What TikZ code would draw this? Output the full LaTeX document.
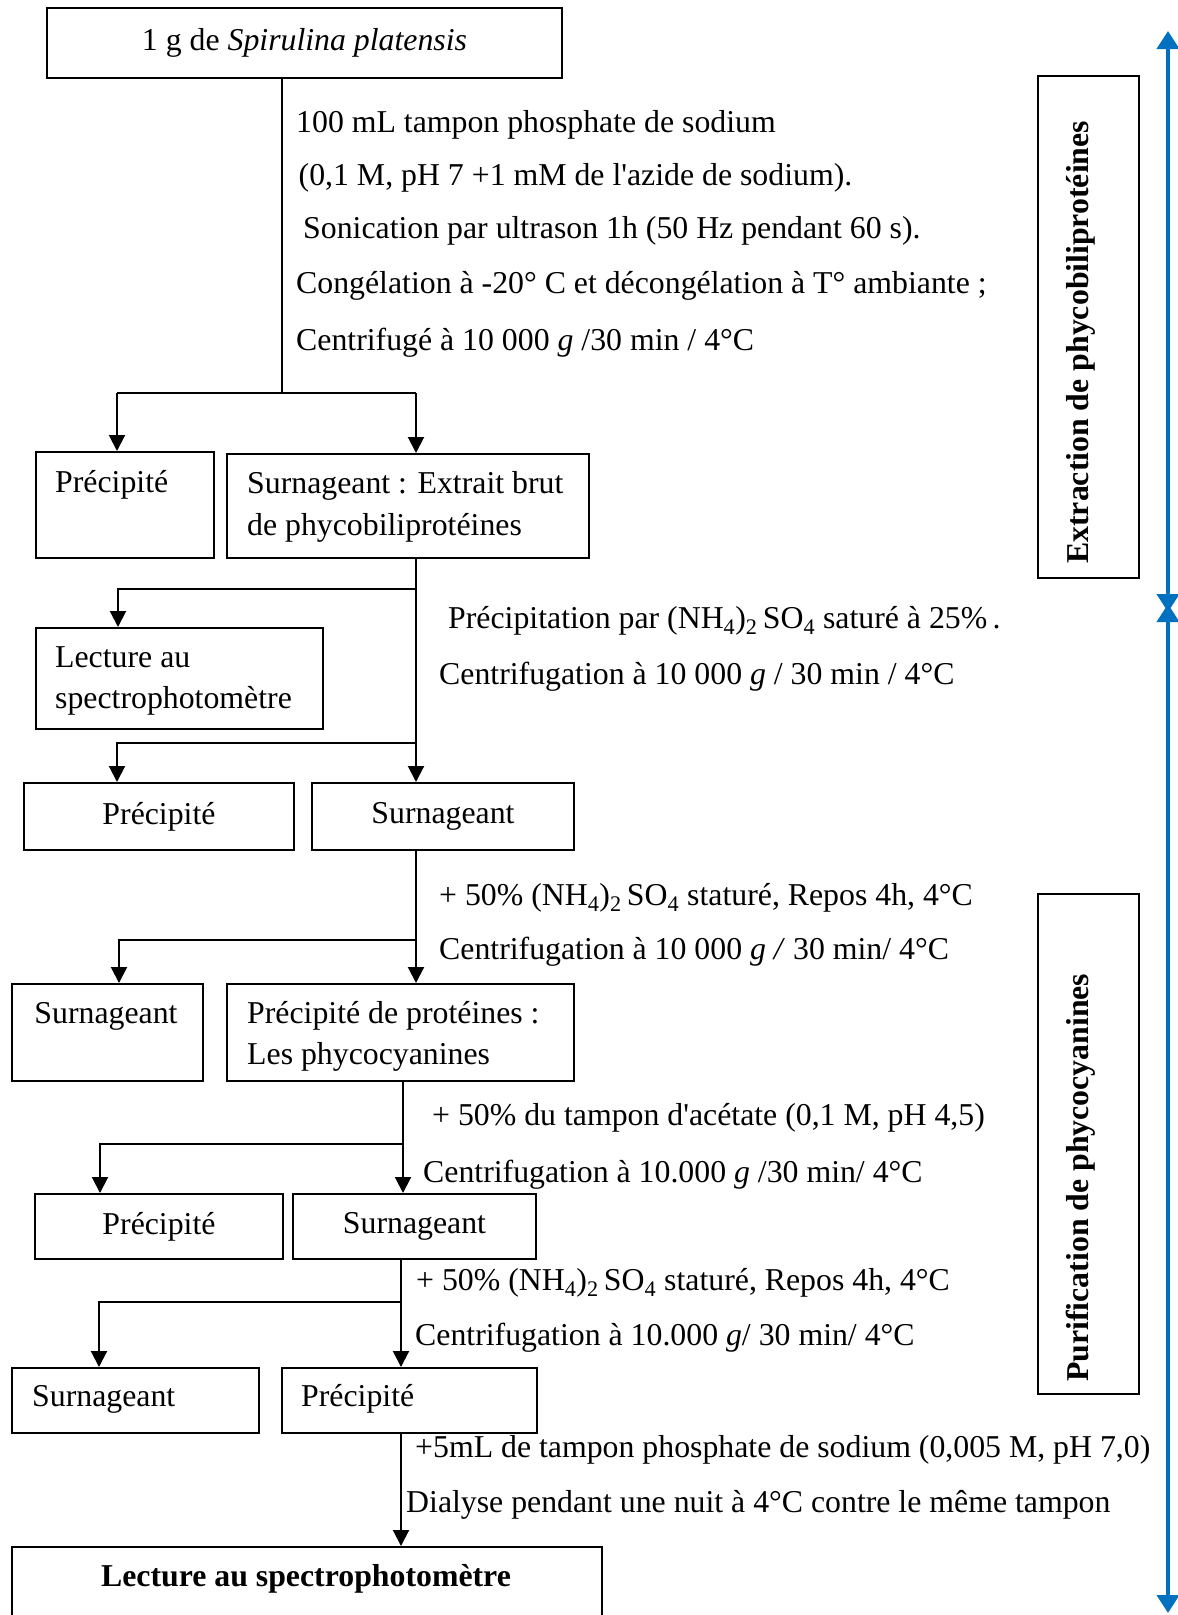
\documentclass[tikz,border=0pt]{standalone}
\usepackage{fontspec}
\setmainfont{Liberation Serif}[Ligatures=TeXOff]
\usetikzlibrary{arrows.meta}
\definecolor{bluearr}{RGB}{0,112,192}
\tikzset{
  box/.style={draw=black, line width=2pt, rectangle, inner sep=0pt, anchor=north west,
              font=\fontsize{31.8}{38}\selectfont},
  txt/.style={inner sep=0pt, anchor=base west, font=\fontsize{31.8}{38}\selectfont},
  rtxt/.style={inner sep=0pt, anchor=base west, rotate=90, font=\fontsize{31.8}{38}\selectfont\bfseries},
  con/.style={line width=2pt},
  arr/.style={con, -{Triangle[width=16pt,length=16pt]}},
  barr/.style={draw=bluearr, line width=4pt,
     {Triangle[width=22pt,length=18pt]}-{Triangle[width=22pt,length=18pt]}},
}
\begin{document}
\begin{tikzpicture}[x=1pt,y=-1pt]
\useasboundingbox (0,0) rectangle (1178,1615);

% boxes
\node[box, minimum width=515pt, minimum height=70pt] (top) at (46,7) {1 g de \textit{Spirulina platensis}};
\node[box, minimum width=178pt, minimum height=106pt] (p1) at (35,451) {};
\node[box, minimum width=362pt, minimum height=104pt] (s1) at (226,453) {};
\node[box, minimum width=287pt, minimum height=101pt] (lec1) at (35,627) {};
\node[box, minimum width=270pt, minimum height=67pt] (p2) at (23,782) {Précipité};
\node[box, minimum width=262pt, minimum height=67pt] (s2) at (311,782) {Surnageant};
\node[box, minimum width=191pt, minimum height=97pt] (s3) at (11,983) {};
\node[box, minimum width=347pt, minimum height=97pt] (pp) at (226,983) {};
\node[box, minimum width=248pt, minimum height=65pt] (p4) at (34,1193) {Précipité};
\node[box, minimum width=243pt, minimum height=65pt] (s4) at (292,1193) {Surnageant};
\node[box, minimum width=247pt, minimum height=65pt] (s5) at (11,1367) {};
\node[box, minimum width=255pt, minimum height=65pt] (p5) at (281,1367) {};
\node[box, minimum width=590pt, minimum height=90pt] (fin) at (11,1546) {};
\node[box, minimum width=101pt, minimum height=502pt] (ext) at (1037,75) {};
\node[box, minimum width=101pt, minimum height=500pt] (pur) at (1037,893) {};

% texts inside boxes
\node[txt] (p1t) at (55,492) {Précipité};
\node[txt] (s1t) at (247,493) {Surnageant : Extrait brut};
\node[txt] (s1t2) at (247,535) {de phycobiliprotéines};
\node[txt] (lect) at (55,667) {Lecture au};
\node[txt] (lect2) at (55,708) {spectrophotomètre};
\node[txt, anchor=base] (s3t) at (106,1023) {Surnageant};
\node[txt] (ppt) at (247,1023) {Précipité de protéines :};
\node[txt] (ppt2) at (247,1064) {Les phycocyanines};
\node[txt] (s5t) at (32,1406) {Surnageant};
\node[txt] (p5t) at (301,1406) {Précipité};
\node[txt, anchor=base, font=\fontsize{31.8}{38}\selectfont\bfseries] (fint) at (306,1586) {Lecture au spectrophotomètre};
\node[rtxt] (extt) at (1088,564) {Extraction de phycobiliprotéines};
\node[rtxt] (purt) at (1088,1382) {Purification de phycocyanines};

% step notes
\node[txt] (n1a) at (296,132) {100 mL tampon phosphate de sodium};
\node[txt] (n1b) at (298.5,185) {(0,1 M, pH 7 +1 mM de l'azide de sodium).};
\node[txt] (n1c) at (303,238) {Sonication par ultrason 1h (50 Hz pendant 60 s).};
\node[txt] (n1d) at (296,293) {Congélation à -20° C et décongélation à T° ambiante ;};
\node[txt] (n1e) at (296,350) {Centrifugé à 10 000 \textit{g} /30 min / 4°C};

\node[txt] (n2a) at (448,628) {Précipitation par (NH\textsubscript{4})\textsubscript{2}\,SO\textsubscript{4} saturé à 25\%\,.};
\node[txt] (n2b) at (439,684) {Centrifugation à 10 000 \textit{g} / 30 min / 4°C};

\node[txt] (n3a) at (439,905) {+ 50\% (NH\textsubscript{4})\textsubscript{2}\,SO\textsubscript{4} staturé, Repos 4h, 4°C};
\node[txt] (n3b) at (439,959) {Centrifugation à 10 000 \textit{g /} 30 min/ 4°C};

\node[txt] (n4a) at (432,1125) {+ 50\% du tampon d'acétate (0,1 M, pH 4,5)};
\node[txt] (n4b) at (423,1182) {Centrifugation à 10.000 \textit{g} /30 min/ 4°C};

\node[txt] (n5a) at (416,1290) {+ 50\% (NH\textsubscript{4})\textsubscript{2}\,SO\textsubscript{4} staturé, Repos 4h, 4°C};
\node[txt] (n5b) at (415,1345) {Centrifugation à 10.000 \textit{g}/ 30 min/ 4°C};

\node[txt] (n6a) at (415,1457) {+5mL de tampon phosphate de sodium (0,005 M, pH 7,0)};
\node[txt] (n6b) at (406,1512) {Dialyse pendant une nuit à 4°C contre le même tampon};

% connectors
\coordinate (j1) at (282,393);
\coordinate (j1l) at (117,393);
\coordinate (j1r) at (416,393);
\draw[con] (top.south -| j1) -- (j1);
\draw[con] (j1l) -- (j1r);
\draw[arr] (j1l) -- (j1l |- p1.north);
\draw[arr] (j1r) -- (j1r |- s1.north);

\coordinate (a2) at (416,0);
\draw[arr] (s1.south -| a2) -- (s2.north -| a2);
\coordinate (j2) at (416,589);
\coordinate (j2l) at (118,589);
\draw[arr] (j2) -- (j2l) -- (j2l |- lec1.north);
\coordinate (j3) at (416,743);
\coordinate (j3l) at (117,743);
\draw[arr] (j3) -- (j3l) -- (j3l |- p2.north);

\draw[arr] (s2.south -| a2) -- (pp.north -| a2);
\coordinate (j4) at (416,940);
\coordinate (j4l) at (119,940);
\draw[arr] (j4) -- (j4l) -- (j4l |- s3.north);

\coordinate (a4) at (403,0);
\draw[arr] (pp.south -| a4) -- (s4.north -| a4);
\coordinate (j5) at (403,1144);
\coordinate (j5l) at (100,1144);
\draw[arr] (j5) -- (j5l) -- (j5l |- p4.north);

\coordinate (a5) at (401,0);
\draw[arr] (s4.south -| a5) -- (p5.north -| a5);
\coordinate (j6) at (401,1302);
\coordinate (j6l) at (99,1302);
\draw[arr] (j6) -- (j6l) -- (j6l |- s5.north);

\coordinate (a6) at (401,0);
\draw[arr] (p5.south -| a6) -- (fin.north -| a6);

% blue phase arrows
\coordinate (ba1) at (1168,31);
\coordinate (ba2) at (1168,612);
\coordinate (bb1) at (1168,604);
\coordinate (bb2) at (1168,1613);
\draw[barr] (ba1) -- (ba2);
\draw[barr] (bb1) -- (bb2);
\end{tikzpicture}
\end{document}
